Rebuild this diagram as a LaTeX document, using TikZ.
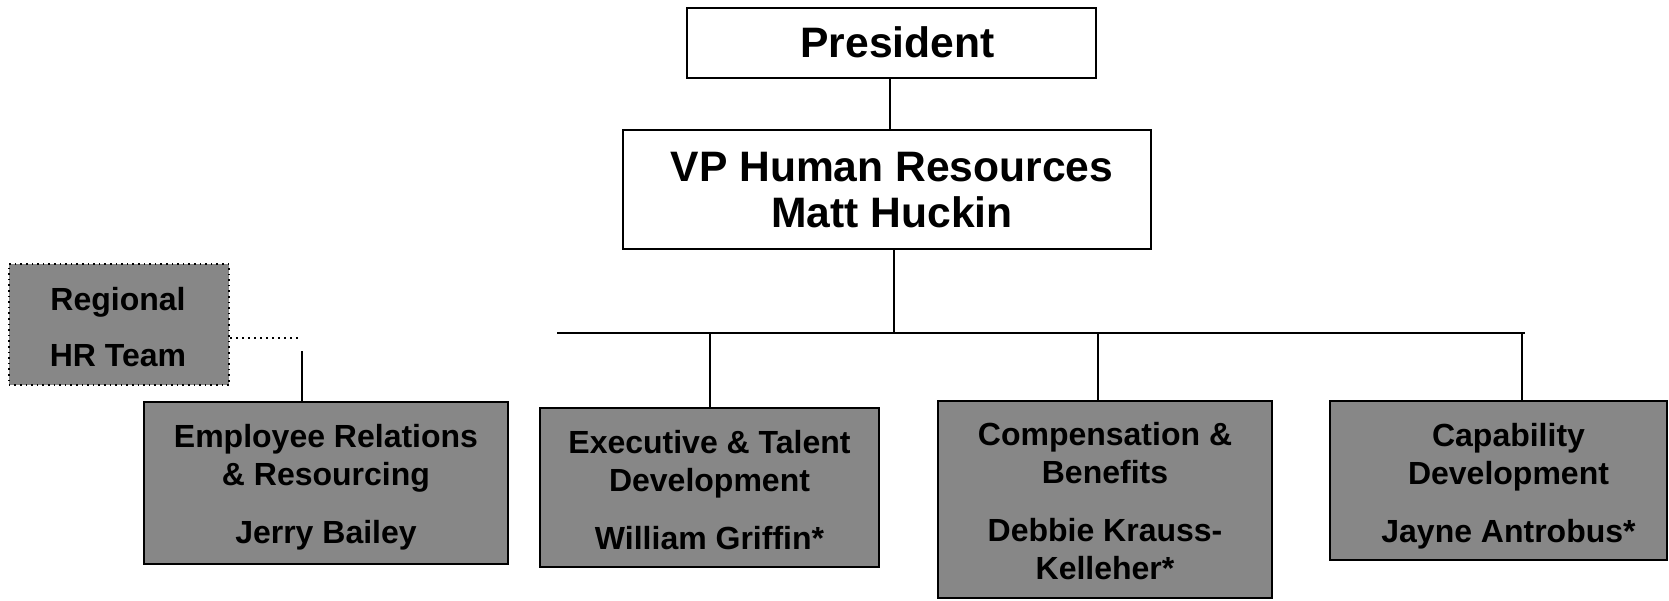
\documentclass[tikz,border=0pt]{standalone}
\usepackage{fontspec}
\setmainfont{Liberation Sans}
\definecolor{boxgray}{gray}{0.53}
\begin{document}
\begin{tikzpicture}[x=0.5pt,y=-0.5pt,
  whitebox/.style={draw=black, line width=1pt, fill=white, inner sep=0pt},
  graybox/.style={draw=black, line width=1.1pt, fill=boxgray, inner sep=0pt},
  regbox/.style={draw=black, dotted, line width=0.8pt, fill=boxgray, inner sep=0pt},
  toptext/.style={align=center, inner sep=0pt, font=\fontsize{21.3}{23}\selectfont\bfseries},
  boxtext/.style={align=center, inner sep=0pt, font=\fontsize{16}{19}\selectfont\bfseries},
  link/.style={line width=1pt},
  dotlink/.style={line width=1pt, dotted}]
\useasboundingbox (0,0) rectangle (1669,600);

% top of the chart
\node[whitebox, minimum width=204.5pt, minimum height=35.25pt] (pres) at (891.5,42.75) {};
\node[toptext] (presT) at ([shift={(6,0)}]pres.center) {President};
\node[whitebox, minimum width=264pt, minimum height=59.5pt] (vp) at (887,189.5) {};
\node[toptext] (vpT) at ([shift={(5,1)}]vp.center) {VP Human Resources\\Matt Huckin};

% regional team, linked by a dotted line
\node[regbox, minimum width=110.25pt, minimum height=60.5pt] (reg) at (119,324.5) {};
\node[boxtext] (regT) at ([shift={(-1,3)}]reg.center) {Regional\\[9pt]HR Team};

% departments
\node[graybox, minimum width=182pt, minimum height=81pt] (emp) at (326,483) {};
\node[boxtext] (empT) at ([shift={(0,4)}]emp.center)
  {Employee Relations\\\& Resourcing\\[10pt]Jerry Bailey};
\node[graybox, minimum width=169.5pt, minimum height=79.5pt] (exec) at (709.5,487.5) {};
\node[boxtext] (execT) at ([shift={(0,3)}]exec.center)
  {Executive \& Talent\\Development\\[10pt]William Griffin*};
\node[graybox, minimum width=167pt, minimum height=98.5pt] (comp) at (1105,499.5) {};
\node[boxtext] (compT) at ([shift={(0,2)}]comp.center)
  {Compensation \&\\Benefits\\[10pt]Debbie Krauss-\\Kelleher*};
\node[graybox, minimum width=168.5pt, minimum height=79.5pt] (cap) at (1498.5,480.5) {};
\node[boxtext] (capT) at ([shift={(10,6)}]cap.center)
  {Capability\\Development\\[10pt]Jayne Antrobus*};

% connector geometry
\coordinate (busL) at (557,333);
\coordinate (busR) at (1525,333);
\coordinate (busJ) at (894,333);
\coordinate (compD) at (1098,333);
\coordinate (capD) at (1522,333);
\coordinate (dotE) at (298,338);
\coordinate (empD) at (302,351);
\coordinate (presD) at (890,0);

\draw[link] (pres.south -| presD) -- (vp.north -| presD);
\draw[link] (vp.south -| busJ) -- (busJ);
\draw[link] (busL) -- (busR);
\draw[link] (exec.north |- busL) -- (exec.north);
\draw[link] (compD) -- (compD |- comp.north);
\draw[link] (capD) -- (capD |- cap.north);
\draw[dotlink] (reg.east |- dotE) -- (dotE);
\draw[link] (empD) -- (empD |- emp.north);
\end{tikzpicture}
\end{document}
